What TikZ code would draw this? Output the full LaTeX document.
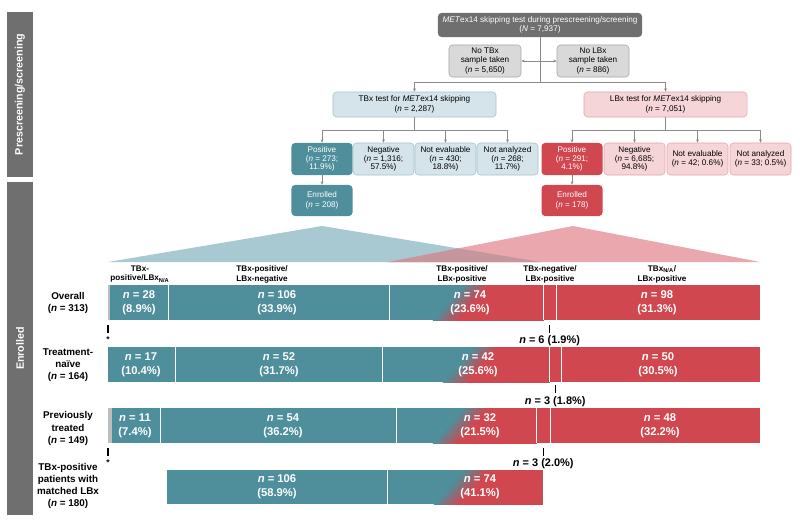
\documentclass[tikz,border=0pt]{standalone}
\usepackage{fontspec}
\setmainfont{Liberation Sans}
\usepackage{tikz}
\usetikzlibrary{
    arrows.meta,
    calc,
    positioning
}
\definecolor{bandgray}{HTML}{6F6F6F}
\definecolor{boxgray}{HTML}{D9D9D9}
\definecolor{boxedge}{HTML}{A8A8A8}
\definecolor{linegray}{HTML}{8A8A8A}
\definecolor{tbxlight}{HTML}{D5E4EA}
\definecolor{tbxedge}{HTML}{A3C3CD}
\definecolor{lbxlight}{HTML}{F6D5D8}
\definecolor{lbxedge}{HTML}{E3A6AC}
\definecolor{barteal}{HTML}{4F8F9B}
\definecolor{barred}{HTML}{D1474F}
\definecolor{triteal}{HTML}{A9C9D2}
\definecolor{trired}{HTML}{EAA7AD}
\definecolor{trimix}{HTML}{C6959D}
\definecolor{nagray}{HTML}{BDBDBD}
\tikzset{
    every picture/.style = {
        > = {Stealth[length=2.4pt, width=2pt]}
    },
    flow/.style = {
        rounded corners = 2.5pt,
        align = center,
        inner sep = 0pt,
        font = \fontsize{5.8}{6.9}\selectfont
    },
    topbox/.style = {flow, fill=bandgray, text=white,
        minimum width=51mm, minimum height=6mm},
    nobox/.style = {flow, fill=boxgray, draw=boxedge, line width=0.4pt,
        minimum width=18mm, minimum height=8mm},
    testbox/.style = {flow, line width=0.4pt,
        minimum width=40.75mm, minimum height=6.25mm},
    resbox/.style = {flow, line width=0.4pt,
        minimum width=15.25mm, minimum height=8mm,
        font = \fontsize{5.8}{6.2}\selectfont},
    enrbox/.style = {flow, text=white,
        minimum width=15.25mm, minimum height=7.75mm},
    conn/.style = {draw=linegray, line width=0.5pt},
    band/.style = {fill=bandgray, text=white, rotate=90,
        inner sep=0pt, minimum height=6.5mm,
        font=\bfseries\fontsize{7.6}{8.5}\selectfont},
    rowlabel/.style = {align=center, inner sep=0pt,
        font=\bfseries\fontsize{7}{8.6}\selectfont},
    collabel/.style = {align=center, inner sep=0pt,
        font=\bfseries\fontsize{5.8}{7}\selectfont},
    barlabel/.style = {align=center, text=white, inner sep=0pt,
        font=\bfseries\fontsize{8}{10}\selectfont},
    smalln/.style = {inner sep=0pt, font=\bfseries\fontsize{7.8}{9}\selectfont},
    starlabel/.style = {inner sep=0pt, font=\bfseries\fontsize{6}{6}\selectfont},
    tickmark/.style = {line width=1pt},
    divider/.style = {draw=white, line width=0.5pt}
}
% teal to red segment: x1, x2, ytop, ybottom, centre of the blend
\newcommand{\gradseg}[5]{%
    \begin{scope}
        \clip (#1,#3) rectangle (#2,#4);
        \fill[barteal] (#1,#3) rectangle (#2,#4);
        \foreach \k in {0,...,25}{
            \pgfmathsetmacro{\redpart}{4*\k}
            \pgfmathsetmacro{\xtop}{#5-12.5+\k+16}
            \pgfmathsetmacro{\xbot}{#5-12.5+\k-16}
            \fill[barred!\redpart!barteal] (\xtop,#3-1) -- (#2+1,#3-1)
                -- (#2+1,#4+1) -- (\xbot,#4+1) -- cycle;
        }
    \end{scope}}

\begin{document}
\begin{tikzpicture}[x=0.025cm, y=-0.025cm]
    \useasboundingbox (0,0) rectangle (800,519);

    % side bands
    \node[band, minimum width=41.25mm] (pre) at (20,94.5) {Prescreening/screening};
    \node[band, minimum width=83.25mm] (enr) at (20,348.5) {Enrolled};

    % screening flow
    \node[topbox] (top) at (540,25) {\textit{MET}ex14 skipping test during prescreening/screening\\(\textit{N} = 7,937)};
    \node[nobox] (notbx) at (485,61) {No TBx\\sample taken\\(\textit{n} = 5,650)};
    \node[nobox] (nolbx) at (593,61) {No LBx\\sample taken\\(\textit{n} = 886)};
    \node[testbox, fill=tbxlight, draw=tbxedge] (tbx) at (414.5,104.5) {TBx test for \textit{MET}ex14 skipping\\(\textit{n} = 2,287)};
    \node[testbox, fill=lbxlight, draw=lbxedge] (lbx) at (665.5,104.5) {LBx test for \textit{MET}ex14 skipping\\(\textit{n} = 7,051)};

    \node[resbox, fill=barteal, text=white] (t1) at (322,159) {Positive\\(\textit{n} = 273;\\11.9\%)};
    \node[resbox, fill=tbxlight, draw=tbxedge] (t2) at (383.5,159) {Negative\\(\textit{n} = 1,316;\\57.5\%)};
    \node[resbox, fill=tbxlight, draw=tbxedge] (t3) at (445.5,159) {Not evaluable\\(\textit{n} = 430;\\18.8\%)};
    \node[resbox, fill=tbxlight, draw=tbxedge] (t4) at (507.5,159) {Not analyzed\\(\textit{n} = 268;\\11.7\%)};
    \node[resbox, fill=barred, text=white] (l1) at (572,159) {Positive\\(\textit{n} = 291;\\4.1\%)};
    \node[resbox, fill=lbxlight, draw=lbxedge] (l2) at (634.5,159) {Negative\\(\textit{n} = 6,685;\\94.8\%)};
    \node[resbox, fill=lbxlight, draw=lbxedge] (l3) at (697.5,159) {Not evaluable\\(\textit{n} = 42; 0.6\%)};
    \node[resbox, fill=lbxlight, draw=lbxedge] (l4) at (760.5,159) {Not analyzed\\(\textit{n} = 33; 0.5\%)};

    \node[enrbox, fill=barteal] (enrT) at (322,200.5) {Enrolled\\(\textit{n} = 208)};
    \node[enrbox, fill=barred] (enrL) at (572,200.5) {Enrolled\\(\textit{n} = 178)};

    \coordinate (s0) at (540,82);
    \coordinate (s1) at (414.5,130);
    \coordinate (s2) at (665.5,130);
    \draw[conn] (top.south) -- (s0);
    \draw[conn, ->] (s0) -| (tbx.north);
    \draw[conn, ->] (s0) -| (lbx.north);
    \draw[conn, ->] (top.south |- notbx.east) -- (notbx.east);
    \draw[conn, ->] (top.south |- nolbx.west) -- (nolbx.west);
    \draw[conn] (tbx.south) -- (s1);
    \draw[conn] (lbx.south) -- (s2);
    \foreach \n in {t1,t2,t3,t4}
        \draw[conn, ->] (s1) -| (\n.north);
    \foreach \n in {l1,l2,l3,l4}
        \draw[conn, ->] (s2) -| (\n.north);
    \draw[conn, ->] (t1.south) -- (enrT.north);
    \draw[conn, ->] (l1.south) -- (enrL.north);

    % fans from the enrolled boxes
    \coordinate (aT) at (322,226);
    \coordinate (aL) at (573,226);
    \fill[triteal] (aT) -- (108,262) -- (541,262) -- cycle;
    \fill[trired] (aL) -- (388,262) -- (760,262) -- cycle;
    \begin{scope}
        \clip (aT) -- (108,262) -- (541,262) -- cycle;
        \fill[trimix] (aL) -- (388,262) -- (760,262) -- cycle;
    \end{scope}

    % column heads
    \node[collabel] (h1) at (140,274) {TBx-\\positive/LBx\textsubscript{N/A}};
    \node[collabel] (h2) at (262,274) {TBx-positive/\\LBx-negative};
    \node[collabel] (h3) at (462,274) {TBx-positive/\\LBx-positive};
    \node[collabel] (h4) at (550,274) {TBx-negative/\\LBx-positive};
    \node[collabel] (h5) at (662,274) {TBx\textsubscript{N/A}/\\LBx-positive};

    % row labels
    \node[rowlabel] (r1) at (68,302.5) {Overall\\(\textit{n} = 313)};
    \node[rowlabel] (r2) at (68,365) {Treatment-\\naïve\\(\textit{n} = 164)};
    \node[rowlabel] (r3) at (68,428.5) {Previously\\treated\\(\textit{n} = 149)};
    \node[rowlabel] (r4) at (68,486) {TBx-positive\\patients with\\matched LBx\\(\textit{n} = 180)};

    % overall
    \fill[nagray] (108,285) rectangle (110.1,320);
    \fill[barteal] (110.1,285) rectangle (389.2,320);
    \gradseg{389.2}{543.4}{285}{320}{461}
    \fill[barred] (543.4,285) rectangle (760,320);
    \foreach \x in {168.4,389.2,543.4,555.9}
        \draw[divider] (\x,285) -- (\x,320);
    \node[barlabel] (b11) at (139,302.5) {\textit{n} = 28\\(8.9\%)};
    \node[barlabel] (b12) at (277,302.5) {\textit{n} = 106\\(33.9\%)};
    \node[barlabel] (b13) at (470,302.5) {\textit{n} = 74\\(23.6\%)};
    \node[barlabel] (b15) at (657,302.5) {\textit{n} = 98\\(31.3\%)};

    % treatment-naive
    \fill[barteal] (108,347) rectangle (382.3,382);
    \gradseg{382.3}{549.3}{347}{382}{471}
    \fill[barred] (549.3,347) rectangle (760,382);
    \foreach \x in {175.6,382.3,549.3,561.2}
        \draw[divider] (\x,347) -- (\x,382);
    \node[barlabel] (b21) at (141,364.5) {\textit{n} = 17\\(10.4\%)};
    \node[barlabel] (b22) at (279,364.5) {\textit{n} = 52\\(31.7\%)};
    \node[barlabel] (b23) at (478,364.5) {\textit{n} = 42\\(25.6\%)};
    \node[barlabel] (b25) at (658,364.5) {\textit{n} = 50\\(30.5\%)};

    % previously treated
    \fill[nagray] (108,408) rectangle (112.4,443);
    \fill[barteal] (112.4,408) rectangle (396.8,443);
    \gradseg{396.8}{536.8}{408}{443}{461}
    \fill[barred] (536.8,408) rectangle (760,443);
    \foreach \x in {160.5,396.8,536.8,549.9}
        \draw[divider] (\x,408) -- (\x,443);
    \node[barlabel] (b31) at (135,425.5) {\textit{n} = 11\\(7.4\%)};
    \node[barlabel] (b32) at (283,425.5) {\textit{n} = 54\\(36.2\%)};
    \node[barlabel] (b33) at (480,425.5) {\textit{n} = 32\\(21.5\%)};
    \node[barlabel] (b35) at (660,425.5) {\textit{n} = 48\\(32.2\%)};

    % tbx-positive with matched lbx
    \fill[barteal] (167,470) rectangle (387.8,504);
    \gradseg{387.8}{542}{470}{504}{462}
    \draw[divider] (387.8,470) -- (387.8,504);
    \node[barlabel] (b42) at (277,487) {\textit{n} = 106\\(58.9\%)};
    \node[barlabel] (b43) at (480,487) {\textit{n} = 74\\(41.1\%)};

    % small groups under the bars
    \draw[tickmark] (108,325) -- (108,333);
    \node[starlabel] (st1) at (108,340) {*};
    \draw[tickmark] (549.6,325) -- (549.6,333);
    \node[smalln] (g1) at (549.6,340.5) {\textit{n} = 6 (1.9\%)};
    \draw[tickmark] (555.2,385) -- (555.2,393);
    \node[smalln] (g2) at (555.2,401.5) {\textit{n} = 3 (1.8\%)};
    \draw[tickmark] (108,448) -- (108,456);
    \node[starlabel] (st3) at (108,463) {*};
    \draw[tickmark] (543.3,448) -- (543.3,456);
    \node[smalln] (g3) at (543.3,463.5) {\textit{n} = 3 (2.0\%)};
\end{tikzpicture}
\end{document}
